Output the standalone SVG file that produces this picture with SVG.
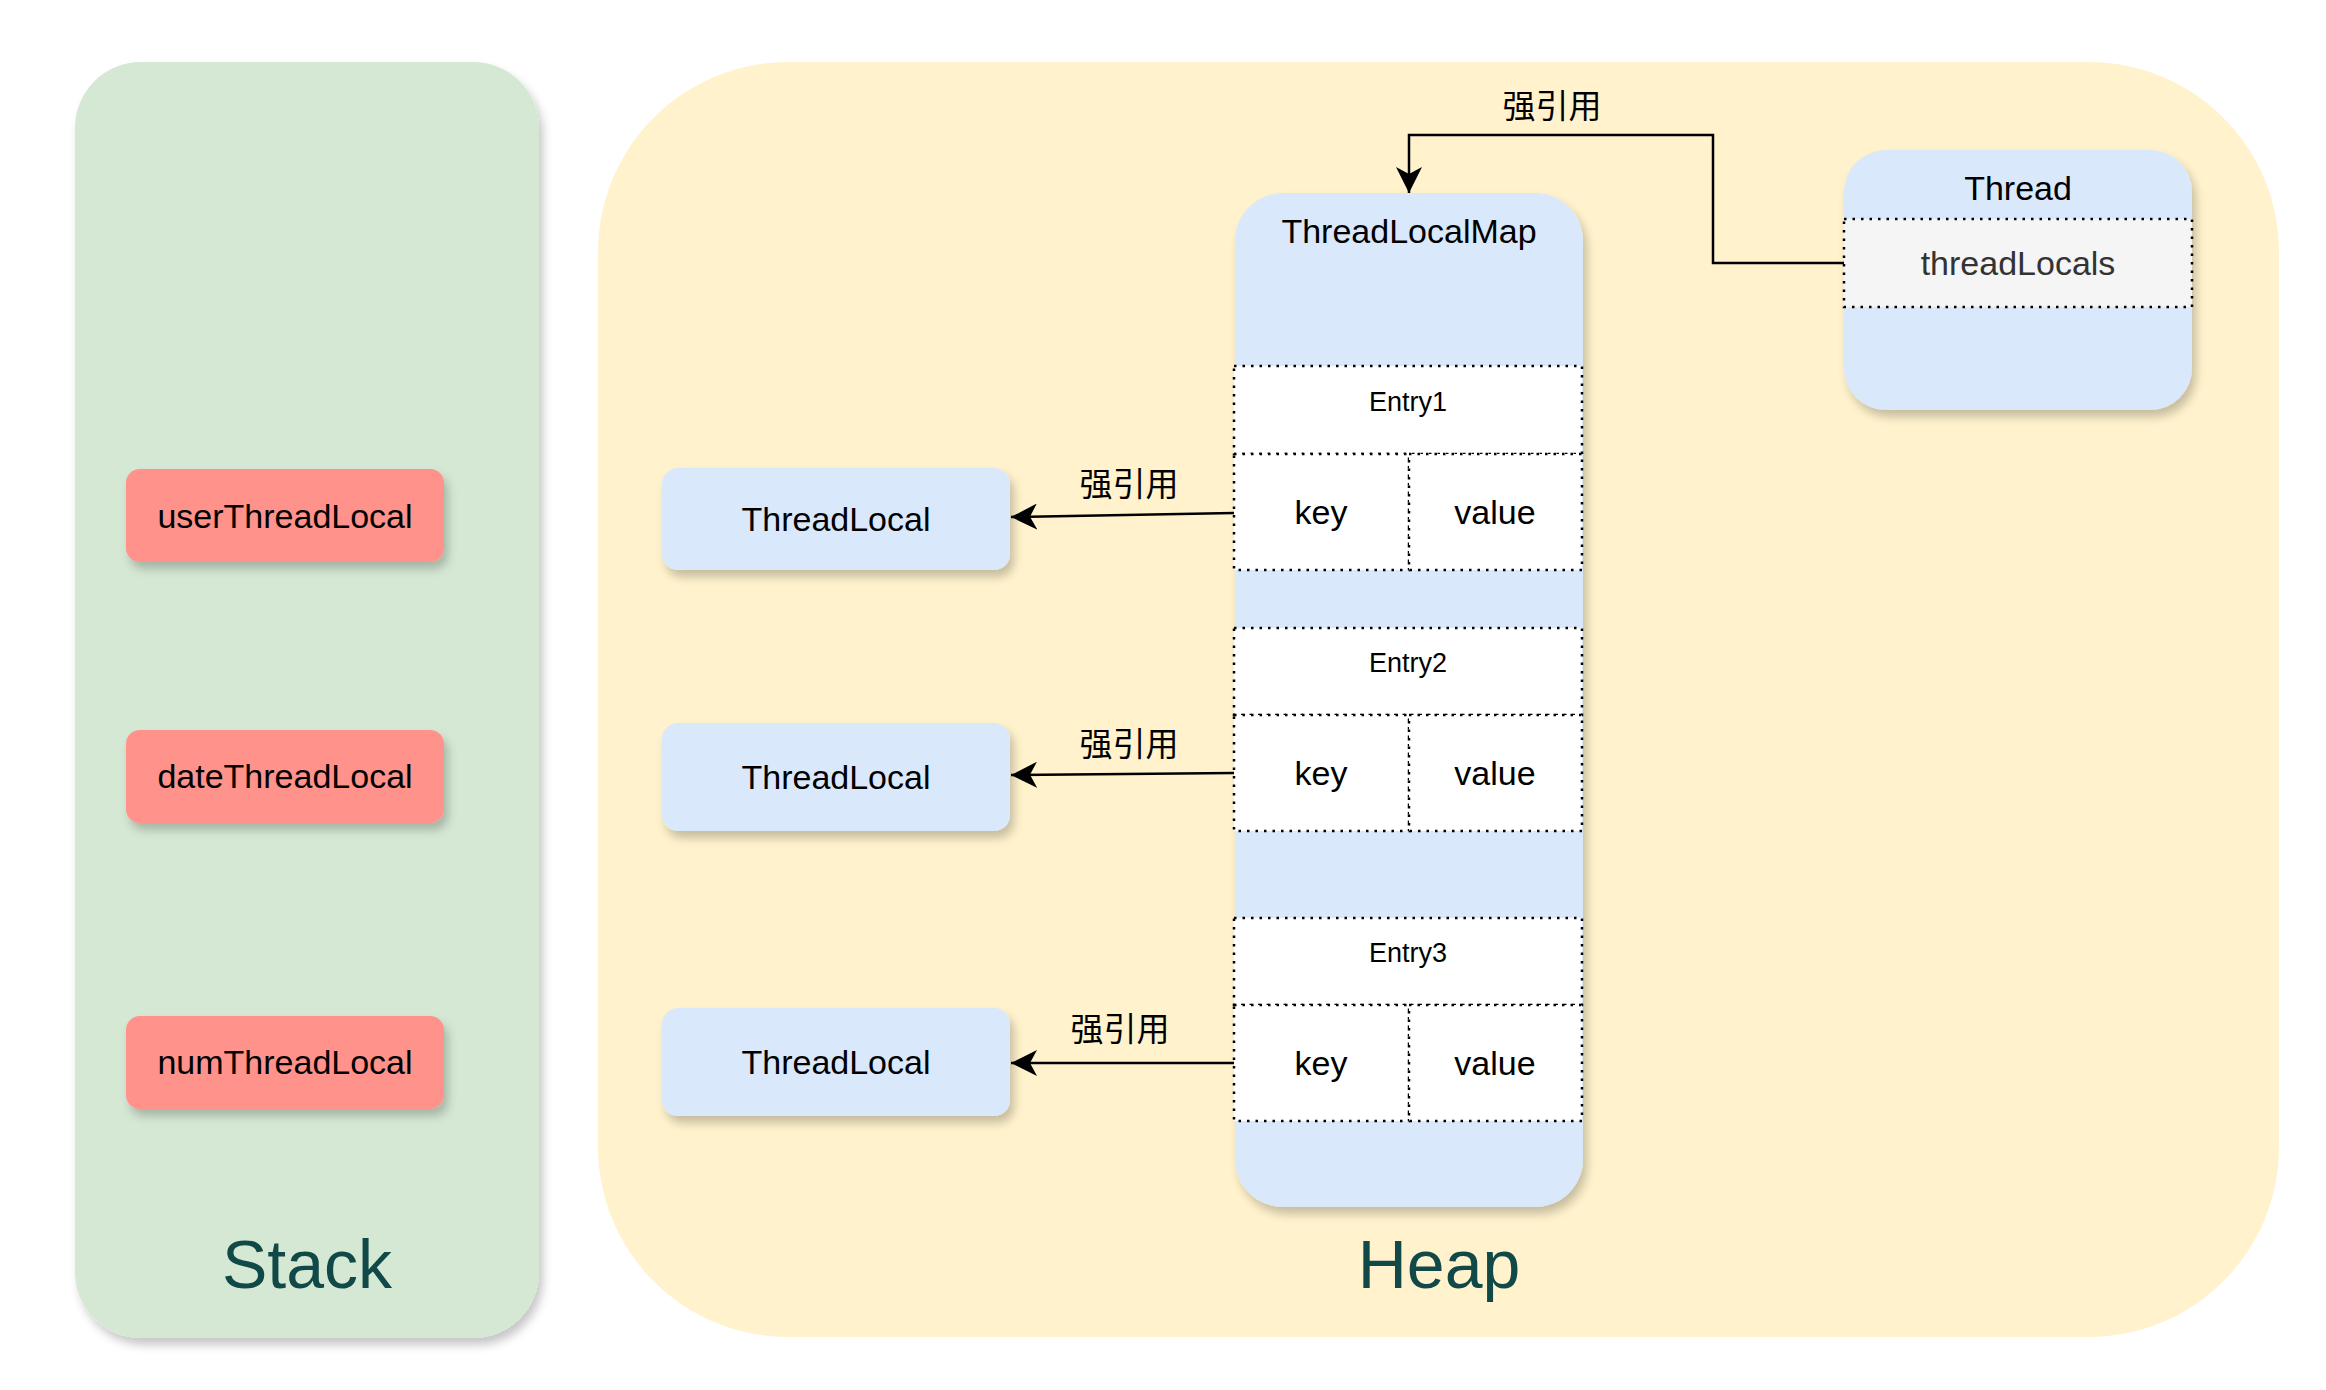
<svg xmlns="http://www.w3.org/2000/svg" width="2326" height="1390" viewBox="0 0 2326 1390">
<style>
text{font-family:"Liberation Sans",Arial,Helvetica,"Noto Sans CJK SC",sans-serif;fill:#000;text-anchor:middle}
.t34{font-size:34px}
.t27{font-size:27px}
.big{font-size:68px;fill:#114848}
.cjk{font-family:"Noto Sans CJK SC","Liberation Sans",sans-serif;font-size:33px}
.cell{fill:#fff;stroke:#000;stroke-width:2.5;stroke-dasharray:2.5 6}
.blue{fill:#dae8fc}
.red{fill:#ff928a}
.conn{fill:none;stroke:#000;stroke-width:2.5}
</style>
<defs>
<filter id="sh" x="-20%" y="-20%" width="140%" height="140%">
<feDropShadow dx="4" dy="7" stdDeviation="5" flood-color="#000" flood-opacity="0.22"/>
</filter>
<marker id="arr" viewBox="0 0 26 26" refX="26" refY="13" markerWidth="26" markerHeight="26" markerUnits="userSpaceOnUse" orient="auto">
<path d="M0 0 L26 13 L0 26 L7 13 Z" fill="#000"/>
</marker>
</defs>

<g id="stack">
<rect x="75" y="62" width="464" height="1276" rx="66" fill="#d5e8d4" filter="url(#sh)"/>
<text class="big" x="307" y="1288">Stack</text>
</g>
<g id="heap">
<rect x="598" y="62" width="1681" height="1275" rx="190" fill="#fff2cc"/>
<text class="big" x="1439" y="1288">Heap</text>
</g>

<g id="userThreadLocal">
<rect class="red" x="126" y="469" width="318" height="93" rx="14" filter="url(#sh)"/>
<text class="t34" x="285" y="528">userThreadLocal</text>
</g>
<g id="dateThreadLocal">
<rect class="red" x="126" y="730" width="318" height="93" rx="14" filter="url(#sh)"/>
<text class="t34" x="285" y="788">dateThreadLocal</text>
</g>
<g id="numThreadLocal">
<rect class="red" x="126" y="1016" width="318" height="93" rx="14" filter="url(#sh)"/>
<text class="t34" x="285" y="1074">numThreadLocal</text>
</g>

<g id="threadLocal1">
<rect class="blue" x="662" y="468" width="348" height="102" rx="16" filter="url(#sh)"/>
<text class="t34" x="836" y="531">ThreadLocal</text>
</g>
<g id="threadLocal2">
<rect class="blue" x="662" y="723" width="348" height="108" rx="16" filter="url(#sh)"/>
<text class="t34" x="836" y="789">ThreadLocal</text>
</g>
<g id="threadLocal3">
<rect class="blue" x="662" y="1008" width="348" height="108" rx="16" filter="url(#sh)"/>
<text class="t34" x="836" y="1074">ThreadLocal</text>
</g>

<g id="threadLocalMap">
<rect class="blue" x="1235" y="193" width="348" height="1014" rx="48" filter="url(#sh)"/>
<text class="t34" x="1409" y="243">ThreadLocalMap</text>
<g id="entry1">
<rect class="cell" x="1234" y="366" width="348" height="88"/>
<text class="t27" x="1408" y="411">Entry1</text>
<rect class="cell" x="1234" y="454" width="175" height="116"/>
<rect class="cell" x="1409" y="454" width="173" height="116"/>
<text class="t34" x="1321" y="524">key</text>
<text class="t34" x="1495" y="524">value</text>
</g>
<g id="entry2">
<rect class="cell" x="1234" y="628" width="348" height="87"/>
<text class="t27" x="1408" y="672">Entry2</text>
<rect class="cell" x="1234" y="715" width="175" height="116"/>
<rect class="cell" x="1409" y="715" width="173" height="116"/>
<text class="t34" x="1321" y="785">key</text>
<text class="t34" x="1495" y="785">value</text>
</g>
<g id="entry3">
<rect class="cell" x="1234" y="918" width="348" height="87"/>
<text class="t27" x="1408" y="962">Entry3</text>
<rect class="cell" x="1234" y="1005" width="175" height="116"/>
<rect class="cell" x="1409" y="1005" width="173" height="116"/>
<text class="t34" x="1321" y="1075">key</text>
<text class="t34" x="1495" y="1075">value</text>
</g>
</g>

<g id="thread">
<rect class="blue" x="1844" y="150" width="348" height="260" rx="42" filter="url(#sh)"/>
<text class="t34" x="2018" y="200">Thread</text>
<rect class="cell" x="1844" y="219" width="348" height="88" style="fill:#f5f5f5"/>
<text class="t34" x="2018" y="275" style="fill:#333">threadLocals</text>
</g>

<g id="connectors">
<path class="conn" d="M1844 263 L1713 263 L1713 135 L1409 135 L1409 193" marker-end="url(#arr)"/>
<text class="cjk" x="1552" y="118">强引用</text>
<path class="conn" d="M1234 513 L1011 517" marker-end="url(#arr)"/>
<text class="cjk" x="1129" y="496">强引用</text>
<path class="conn" d="M1234 773 L1011 775" marker-end="url(#arr)"/>
<text class="cjk" x="1129" y="756">强引用</text>
<path class="conn" d="M1234 1063 L1011 1063" marker-end="url(#arr)"/>
<text class="cjk" x="1120" y="1041">强引用</text>
</g>
</svg>
